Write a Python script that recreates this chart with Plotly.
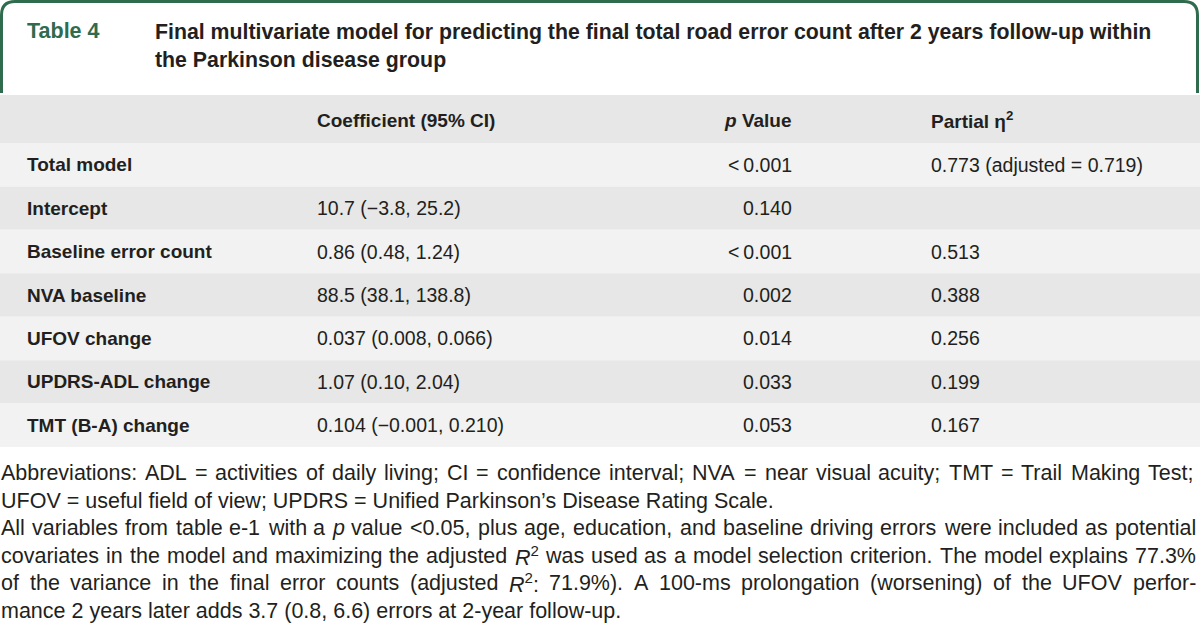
import re
import plotly.graph_objects as go

# ---------------- data ----------------
table_number = "Table 4"
title_lines = [
    "Final multivariate model for predicting the final total road error count after 2 years follow-up within",
    "the Parkinson disease group",
]
column_headers = ["", "Coefficient (95% CI)", "<i>p</i> Value", "Partial η<sup>2</sup>"]
predictors = ["Total model", "Intercept", "Baseline error count", "NVA baseline",
              "UFOV change", "UPDRS-ADL change", "TMT (B-A) change"]
coefficients = ["", "10.7 (−3.8, 25.2)", "0.86 (0.48, 1.24)", "88.5 (38.1, 138.8)",
                "0.037 (0.008, 0.066)", "1.07 (0.10, 2.04)", "0.104 (−0.001, 0.210)"]
p_values = ["&lt;\u20090.001", "0.140", "&lt;\u20090.001", "0.002", "0.014", "0.033", "0.053"]
partial_eta2 = ["0.773 (adjusted = 0.719)", "", "0.513", "0.388", "0.256", "0.199", "0.167"]
footnote_lines = [
    "Abbreviations: ADL = activities of daily living; CI = confidence interval; NVA = near visual acuity; TMT = Trail Making Test;",
    "UFOV = useful field of view; UPDRS = Unified Parkinson’s Disease Rating Scale.",
    "All variables from table e-1 with a <i>p</i> value &lt;0.05, plus age, education, and baseline driving errors were included as potential",
    "covariates in the model and maximizing the adjusted <i>R</i><sup>2</sup> was used as a model selection criterion. The model explains 77.3%",
    "of the variance in the final error counts (adjusted <i>R</i><sup>2</sup>: 71.9%). A 100-ms prolongation (worsening) of the UFOV perfor-",
    "mance 2 years later adds 3.7 (0.8, 6.6) errors at 2-year follow-up.",
]
footnote_justified = [True, False, True, True, True, False]

# ---------------- style / layout ----------------
W, H = 1200, 637
FONT = "Liberation Sans"
GREEN = "#2f6b4c"
TEXT = "#231f20"
HEADER_BG = "#e6e7e6"
ROW_BG = ["#f1f2f1", "#e6e7e6"]

HEAD_TOP, HEAD_BOT, TABLE_BOT = 95, 143, 447
ROW_H = (TABLE_BOT - HEAD_BOT) / len(predictors)
LABEL_X, COEF_X, P_RIGHT, ETA_X = 27, 317, 792, 931
FS_LABEL = 19
FS_VALUE = 19.5
FS_TITLE = 21.3
FS_TABNUM = 21.5

# Arial/Liberation Sans regular advance widths (per 1000 em)
REG = {' ': 278, '%': 889, '’': 222, "'": 191, '(': 333, ')': 333, ',': 278, '-': 333, '.': 278,
       ':': 278, ';': 278, '<': 584, '=': 584,
       'A': 667, 'B': 667, 'C': 722, 'D': 722, 'E': 667, 'F': 611, 'G': 778, 'H': 722, 'I': 278,
       'J': 500, 'K': 667, 'L': 556, 'M': 833, 'N': 722, 'O': 778, 'P': 667, 'Q': 778, 'R': 722,
       'S': 667, 'T': 611, 'U': 722, 'V': 667, 'W': 944, 'X': 667, 'Y': 667, 'Z': 611,
       'a': 556, 'b': 556, 'c': 500, 'd': 556, 'e': 556, 'f': 278, 'g': 556, 'h': 556, 'i': 222,
       'j': 222, 'k': 500, 'l': 222, 'm': 833, 'n': 556, 'o': 556, 'p': 556, 'q': 556, 'r': 333,
       's': 500, 't': 278, 'u': 556, 'v': 500, 'w': 722, 'x': 500, 'y': 500, 'z': 500}
for d in "0123456789":
    REG[d] = 556


def measure(html):
    total, sup = 0.0, False
    for tok in re.split(r'(</?\w+>)', html):
        if re.fullmatch(r'</?\w+>', tok or ''):
            if tok == '<sup>':
                sup = True
            elif tok == '</sup>':
                sup = False
            continue
        tok = tok.replace('&lt;', '<')
        w = sum(REG.get(c, 556) for c in tok)
        total += w * (0.7 if sup else 1.0)
    return total / 1000.0


FOOT_LEFT, FOOT_RIGHT = 1, 1196
FOOT_Y0, FOOT_DY = 473, 27.5
FS_FOOT = 21.5
MIN_GAP_EM = 0.22
avail = FOOT_RIGHT - FOOT_LEFT

fig = go.Figure()
fig.add_trace(go.Scatter(x=[0, W], y=[0, H], mode="markers", marker=dict(opacity=0),
                         hoverinfo="skip", showlegend=False))

shapes = []
annotations = []


def ann(x, y, text, size, color=TEXT, xanchor="left", weight="normal"):
    annotations.append(dict(x=x, y=y, xref="x", yref="y", text=text, showarrow=False,
                            xanchor=xanchor, yanchor="middle", borderpad=0, borderwidth=0,
                            font=dict(family=FONT, size=size, color=color, weight=weight)))


# header frame (green, rounded top corners)
shapes.append(dict(type="path", xref="x", yref="y",
                   path="M 1.5,93 L 1.5,15 Q 1.5,1.5 15,1.5 L 1184,1.5 Q 1197.5,1.5 1197.5,15 L 1197.5,93",
                   line=dict(color=GREEN, width=3)))
ann(LABEL_X, 31, table_number, FS_TABNUM, color=GREEN, weight="bold")
for i, t in enumerate(title_lines):
    ann(155, 32 + 28 * i, t, FS_TITLE, weight="bold")

# table header row
shapes.append(dict(type="rect", xref="x", yref="y", x0=0, x1=W, y0=HEAD_TOP, y1=HEAD_BOT,
                   fillcolor=HEADER_BG, line=dict(width=0), layer="below"))
hy = (HEAD_TOP + HEAD_BOT) / 2 + 1
ann(COEF_X, hy, column_headers[1], FS_LABEL, weight="bold")
ann(P_RIGHT, hy, column_headers[2], FS_LABEL, xanchor="right", weight="bold")
ann(ETA_X, hy, column_headers[3], FS_LABEL, weight="bold")

# body rows
for i, name in enumerate(predictors):
    y0 = HEAD_BOT + i * ROW_H
    y1 = y0 + ROW_H
    shapes.append(dict(type="rect", xref="x", yref="y", x0=0, x1=W, y0=y0, y1=y1,
                       fillcolor=ROW_BG[i % 2], line=dict(width=0), layer="below"))
    yc = (y0 + y1) / 2
    ann(LABEL_X, yc, name, FS_LABEL, weight="bold")
    if coefficients[i]:
        ann(COEF_X, yc, coefficients[i], FS_VALUE)
    if p_values[i]:
        ann(P_RIGHT, yc, p_values[i], FS_VALUE, xanchor="right")
    if partial_eta2[i]:
        ann(ETA_X, yc, partial_eta2[i], FS_VALUE)

# footnotes (justified lines placed word by word)
for li, (line, just) in enumerate(zip(footnote_lines, footnote_justified)):
    y = FOOT_Y0 + li * FOOT_DY
    if not just:
        ann(FOOT_LEFT, y, line, FS_FOOT)
        continue
    words = line.split(" ")
    em = sum(measure(w) for w in words)
    fs = min(FS_FOOT, avail / (em + MIN_GAP_EM * (len(words) - 1)))
    widths = [measure(w) * fs for w in words]
    gap = (avail - sum(widths)) / (len(words) - 1)
    x = FOOT_LEFT
    for w, wd in zip(words, widths):
        ann(x, y, w, fs)
        x += wd + gap

fig.update_layout(
    width=W, height=H, margin=dict(l=0, r=0, t=0, b=0),
    paper_bgcolor="white", plot_bgcolor="white",
    xaxis=dict(range=[0, W], visible=False, fixedrange=True),
    yaxis=dict(range=[H, 0], visible=False, fixedrange=True),
    shapes=shapes, annotations=annotations, showlegend=False,
)
fig.write_html("out.html", config={"displayModeBar": False},
               post_script="document.body.style.margin='0px';document.body.style.overflow='hidden';")
